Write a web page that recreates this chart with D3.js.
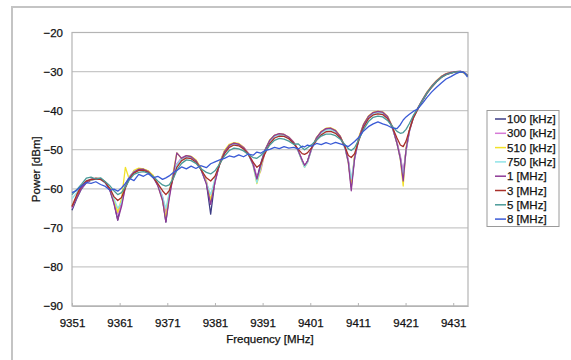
<!DOCTYPE html>
<html>
<head>
<meta charset="utf-8">
<script src="https://cdn.jsdelivr.net/npm/d3@7"></script>
<style>
  html, body { margin: 0; padding: 0; background: #fff; }
  svg { display: block; }
  text { font-family: "Liberation Sans", Arial, sans-serif; fill: #111; stroke: #111; stroke-width: 0.25px; }
</style>
</head>
<body>
<svg id="chart" width="571" height="360"></svg>
<script>
// Frequency sample points [MHz], shared by all traces
const freq = [
  9351, 9352, 9353, 9354, 9355, 9356, 9357, 9358, 9359, 9359.8,
  9360.6, 9361.4, 9362.2, 9363, 9364, 9365, 9366, 9367, 9368, 9369,
  9370, 9370.7, 9371.4, 9372.2, 9373, 9374, 9375, 9376, 9377, 9378,
  9379.2, 9380.1, 9381, 9382, 9383, 9384, 9385, 9386, 9387, 9388,
  9389, 9389.8, 9390.6, 9391.5, 9392.5, 9393.5, 9394.5, 9395.5, 9396.5, 9397.5,
  9398.5, 9399.3, 9399.8, 9400.4, 9401.3, 9402.3, 9403.3, 9404.3, 9405.3, 9406.3,
  9407.3, 9408.3, 9409, 9409.6, 9410.3, 9411.2, 9412.2, 9413.2, 9414.2, 9415.2,
  9416.2, 9417.2, 9418.2, 9419.2, 9419.9, 9420.5, 9421.1, 9421.8, 9422.6, 9423.5,
  9424.5, 9425.5, 9426.5, 9427.5, 9428.5, 9429.5, 9430.5, 9431.5, 9432.5, 9433.3,
  9434
];

// Measured power [dBm] for each resolution bandwidth
const rbw100k = [
  -65.5, -62.5, -60, -58.5, -57.8, -57.5, -57.5, -58.3, -60.5, -63.5,
  -68, -63, -59, -57, -55.6, -55, -55, -55.5, -56.8, -59,
  -62.5, -68.5, -61.5, -56.5, -53.8, -52.2, -51.6, -51.8, -52.8, -54.8,
  -58.5, -66.5, -58, -53.5, -50.5, -49, -48.3, -48.6, -49.5, -51,
  -53.5, -57.5, -53.5, -50, -47.6, -46.4, -46, -46.2, -46.9, -48.2,
  -50.3, -52.8, -54.3, -53, -49.5, -47, -45.5, -44.7, -44.6, -45.2,
  -46.7, -49.5, -53, -59.5, -52, -47, -43.6, -41.6, -40.6, -40.3,
  -40.5, -41.6, -44.2, -48.3, -52, -56.5, -50, -45.2, -41.8, -39.6,
  -37.4, -35.4, -33.8, -32.5, -31.4, -30.7, -30.3, -30.1, -30, -30.3,
  -31
];
const rbw300k = [
  -65, -62, -59.8, -58.3, -57.6, -57.4, -57.6, -58.5, -60.3, -63,
  -66.5, -64, -59.5, -57.2, -55.5, -54.9, -55.1, -55.6, -56.6, -58.8,
  -62, -66, -62, -56.8, -53.6, -52, -51.5, -51.9, -52.7, -54.6,
  -58, -63, -58.5, -53.3, -50.4, -48.8, -48.4, -48.5, -49.3, -50.8,
  -53.2, -57, -55.5, -50.5, -47.8, -46.3, -45.9, -46.1, -46.8, -48,
  -50.2, -52.6, -54, -53.2, -49.8, -47, -45.4, -44.6, -44.5, -45.1,
  -46.6, -49.3, -52.6, -58, -52.5, -47.2, -43.7, -41.5, -40.5, -40.2,
  -40.4, -41.5, -44, -48, -51.5, -56, -50.5, -45.4, -41.9, -39.7,
  -37.5, -35.4, -33.8, -32.4, -31.3, -30.6, -30.2, -30, -30, -30.3,
  -31
];
const rbw510k = [
  -64.5, -62, -59.5, -58.2, -57.7, -57.3, -57.4, -58.2, -60.2, -62.8,
  -66, -62.5, -54.5, -57.5, -55.3, -54.7, -54.9, -55.4, -56.5, -59,
  -63, -67.5, -61, -56, -50.8, -52.3, -51.5, -51.7, -52.6, -54.5,
  -58.2, -63, -57.5, -53.2, -50.2, -48.6, -48.2, -48.4, -49.4, -51,
  -54, -58.7, -55, -50.2, -47.5, -46.3, -45.9, -46.1, -46.8, -48.1,
  -50.4, -53, -54.5, -53.3, -49.6, -46.9, -45.3, -44.5, -44.4, -45,
  -46.5, -49.4, -53.5, -59, -51.5, -46.6, -43.4, -41.4, -40.4, -40.1,
  -40.3, -41.4, -44, -48.4, -52.5, -59.3, -49.5, -45, -41.6, -39.5,
  -37.3, -35.2, -33.6, -32.3, -31.2, -30.5, -30.2, -30, -30, -30.4,
  -31.2
];
const rbw750k = [
  -62.5, -61, -59.3, -58, -57.6, -57.5, -57.6, -58.6, -60.4, -62.5,
  -65, -63.5, -59.2, -57, -55.6, -55.1, -55.2, -55.8, -57, -59,
  -62, -65, -61, -56.6, -53.8, -52.3, -51.8, -52, -53, -55,
  -58.5, -61.5, -57.5, -53.6, -50.6, -49.1, -48.6, -48.8, -49.7, -51.2,
  -54, -58.5, -54.5, -50.3, -47.8, -46.6, -46.2, -46.4, -47.1, -48.4,
  -50.5, -53, -54.5, -53.4, -49.8, -47.2, -45.7, -45, -44.9, -45.5,
  -47, -49.8, -53.2, -57.5, -52.3, -47.3, -43.9, -41.8, -40.8, -40.5,
  -40.7, -41.8, -44.3, -48.3, -52.3, -57, -50.3, -45.3, -41.9, -39.6,
  -37.4, -35.4, -33.8, -32.5, -31.4, -30.7, -30.3, -30.1, -30, -30.3,
  -31
];
const rbw1M = [
  -64.7, -62.3, -59.8, -58.3, -57.6, -57.3, -57.4, -58.3, -60.6, -63.8,
  -68, -64.5, -59.5, -57.2, -55.7, -55, -55, -55.6, -56.9, -59.2,
  -63, -68.5, -62.5, -56.8, -50.8, -52.2, -51.5, -51.8, -52.8, -54.8,
  -58.8, -64, -58.3, -53.5, -50.5, -48.9, -48.3, -48.6, -49.5, -51.1,
  -53.8, -57.5, -54, -50.2, -47.6, -46.3, -45.9, -46.1, -46.8, -48.1,
  -50.3, -52.7, -54, -53, -49.6, -47, -45.4, -44.6, -44.5, -45.1,
  -46.6, -49.4, -53.3, -60.5, -52.2, -47, -43.5, -41.5, -40.5, -40.2,
  -40.4, -41.5, -44.1, -48.4, -52.3, -58, -50, -45.1, -41.7, -39.5,
  -37.3, -35.3, -33.7, -32.4, -31.3, -30.6, -30.2, -30, -29.9, -30.3,
  -31
];
const rbw3M = [
  -64.5, -61.5, -59.2, -58, -57.6, -57.5, -57.6, -58.4, -60, -62,
  -63, -62.2, -59.8, -57.5, -56, -55.3, -55.3, -55.8, -57, -58.7,
  -60.5, -61.5, -60.5, -57.5, -54.5, -52.8, -52.1, -52.3, -53.2, -55,
  -57.2, -58, -56.8, -53.8, -51, -49.4, -48.8, -49, -49.8, -51.2,
  -53.2, -54.5, -53.7, -51, -48.4, -47, -46.5, -46.6, -47.2, -48.4,
  -49.9, -51, -51.2, -50.8, -49.5, -47.6, -46.2, -45.4, -45.3, -45.8,
  -47, -49.3, -51.5, -52, -51, -47.6, -44.2, -42.1, -41.1, -40.8,
  -41, -42, -44.2, -47, -48.8, -49.2, -47.8, -45, -42, -39.8,
  -37.6, -35.6, -34, -32.6, -31.5, -30.8, -30.4, -30.1, -30, -30.3,
  -31
];
const rbw5M = [
  -61.5, -60.2, -58.8, -57.3, -57, -57.5, -57.2, -58.2, -59.3, -60.5,
  -61.5, -61, -59.5, -57.8, -56.3, -55.8, -55.6, -56, -56.8, -58,
  -59, -59.3, -59, -57.5, -55.3, -53.5, -52.6, -52.8, -53.5, -54.8,
  -55.8, -56.2, -55.4, -53.6, -51.6, -50.2, -49.6, -49.8, -50.3, -51.2,
  -52, -52.2, -51.5, -50.4, -48.8, -47.6, -47.1, -47.3, -47.8, -48.6,
  -48.5, -49.5, -50, -49.5, -48.7, -47.5, -46.5, -46, -46, -46.4,
  -47.3, -48.7, -49.8, -50.2, -49.5, -47.4, -44.8, -42.8, -41.7, -41.4,
  -41.6, -42.5, -44, -45.3, -45.8, -45.6, -44.8, -43.3, -41.3, -39.6,
  -37.5, -35.5, -33.9, -32.6, -31.5, -30.8, -30.4, -30.1, -30, -30.3,
  -31
];
const rbw8M = [
  -61, -60.4, -59.3, -58.4, -58.6, -58.2, -58.9, -59.4, -60.4, -60.1,
  -60.6, -59.8, -58.6, -57.3, -57.9, -56.3, -56.8, -56.1, -57.2, -56.8,
  -57.6, -57.2, -56.7, -55.9, -55.3, -54.4, -54.9, -54.2, -54.8, -54.1,
  -54.6, -53.6, -53.1, -52.6, -52.2, -51.6, -51.9, -51.3, -51.8, -51.1,
  -51.4, -50.6, -50.9, -50.2, -49.9, -49.4, -49.7, -49.2, -49.6, -49.4,
  -49.8, -49.1, -49.3, -48.8, -49.1, -48.4, -48.7, -48.2, -48.6, -48.1,
  -48.5, -48.9, -49.2, -48.6, -47.9, -46.8, -45.2, -44.1, -43.4, -42.9,
  -43.4, -43.8, -44.4, -44.6, -43.6, -42.4, -41.6, -40.9, -40.2, -39.6,
  -38.2, -36.6, -35.2, -34, -32.9, -31.9, -31.3, -30.6, -30.1, -30.2,
  -31.4
];

const seriesNames = ["100 [kHz]", "300 [kHz]", "510 [kHz]", "750 [kHz]",
                     "1 [MHz]", "3 [MHz]", "5 [MHz]", "8 [MHz]"];
const seriesValues = [rbw100k, rbw300k, rbw510k, rbw750k, rbw1M, rbw3M, rbw5M, rbw8M];
const seriesColors = ["#3c3c84", "#d67ad6", "#f2e22a", "#8fe3e8",
                      "#8e3a96", "#a8302a", "#4a9a98", "#3a5ad6"];

const xTicks = [9351, 9361, 9371, 9381, 9391, 9401, 9411, 9421, 9431];
const yTicks = [-20, -30, -40, -50, -60, -70, -80, -90];

const svg = d3.select("#chart");

// outer chart frame
svg.append("rect")
  .attr("x", 12).attr("y", 7)
  .attr("width", 571).attr("height", 360)
  .attr("fill", "none").attr("stroke", "#c4c4c4").attr("stroke-width", 2);

const plot = { left: 72, right: 468, top: 32.5, bottom: 306 };

const x = d3.scaleLinear().domain([9351, 9434.1]).range([plot.left, plot.right]);
const y = d3.scaleLinear().domain([-90, -20]).range([plot.bottom, plot.top]);

// horizontal gridlines
svg.append("g")
  .selectAll("line")
  .data(yTicks)
  .join("line")
  .attr("x1", plot.left).attr("x2", plot.right)
  .attr("y1", d => y(d)).attr("y2", d => y(d))
  .attr("stroke", "#c8c8c8").attr("stroke-width", 1.2);

// plot border
svg.append("rect")
  .attr("x", plot.left).attr("y", plot.top)
  .attr("width", plot.right - plot.left).attr("height", plot.bottom - plot.top)
  .attr("fill", "none").attr("stroke", "#b4b4b4").attr("stroke-width", 1.2);

// x axis
const xAxis = svg.append("g")
  .attr("transform", `translate(0,${plot.bottom})`)
  .call(d3.axisBottom(x).tickValues(xTicks).tickFormat(d3.format("d"))
    .tickSizeInner(-3).tickSizeOuter(0).tickPadding(13));
xAxis.select(".domain").attr("stroke", "#b4b4b4").attr("stroke-width", 1.2);
xAxis.selectAll(".tick line").attr("stroke", "#b4b4b4");
xAxis.selectAll(".tick text")
  .attr("font-size", 11.5).attr("fill", "#111")
  .style("font-family", "'Liberation Sans', Arial, sans-serif");

// y axis
const yAxis = svg.append("g")
  .attr("transform", `translate(${plot.left},0)`)
  .call(d3.axisLeft(y).tickValues(yTicks).tickFormat(d => d3.format("d")(d).replace("-", "\u2212"))
    .tickSize(0).tickPadding(9));
yAxis.select(".domain").remove();
yAxis.selectAll(".tick text")
  .attr("font-size", 11.5).attr("fill", "#111")
  .style("font-family", "'Liberation Sans', Arial, sans-serif");

// axis titles
svg.append("text")
  .attr("x", (plot.left + plot.right) / 2).attr("y", 343)
  .attr("text-anchor", "middle").attr("font-size", 11.5)
  .text("Frequency [MHz]");
svg.append("text")
  .attr("transform", `translate(40,${(plot.top + plot.bottom) / 2}) rotate(-90)`)
  .attr("text-anchor", "middle").attr("font-size", 11.5)
  .text("Power [dBm]");

// traces
const line = d3.line()
  .x((d, i) => x(freq[i]))
  .y(d => y(d));

svg.append("g")
  .selectAll("path")
  .data(seriesValues)
  .join("path")
  .attr("d", d => line(d))
  .attr("fill", "none")
  .attr("stroke", (d, i) => seriesColors[i])
  .attr("stroke-width", 1.3)
  .attr("stroke-linejoin", "round");

// legend
const legend = svg.append("g");
const lg = { x: 487, y: 110.5, w: 72, h: 116, row: 14.3, first: 119 };
legend.append("rect")
  .attr("x", lg.x).attr("y", lg.y).attr("width", lg.w).attr("height", lg.h)
  .attr("fill", "#fff").attr("stroke", "#9a9a9a").attr("stroke-width", 1);

const items = legend.selectAll("g.item")
  .data(seriesNames)
  .join("g")
  .attr("class", "item")
  .attr("transform", (d, i) => `translate(0,${lg.first + i * lg.row})`);
items.append("line")
  .attr("x1", 495).attr("x2", 506)
  .attr("y1", 0).attr("y2", 0)
  .attr("stroke", (d, i) => seriesColors[i]).attr("stroke-width", 1.5);
items.append("text")
  .attr("x", 507).attr("y", 0).attr("dy", "0.35em")
  .attr("font-size", 11.5)
  .text(d => d);
</script>
</body>
</html>
